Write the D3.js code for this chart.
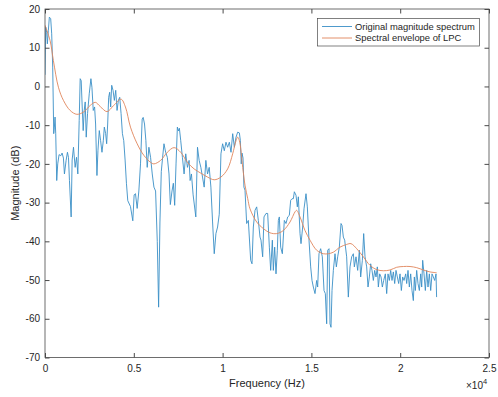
<!DOCTYPE html>
<html>
<head>
<meta charset="utf-8">
<script src="https://cdn.jsdelivr.net/npm/d3@7"></script>
<style>
  html, body { margin: 0; padding: 0; background: #fff; }
  svg { display: block; }
  text { font-family: "Liberation Sans", Arial, Helvetica, sans-serif; fill: #262626; }
</style>
</head>
<body>
<svg id="chart" width="498" height="397"></svg>
<script>
// ---------- data ----------
const spectrumFreq = [0,38,94,132,189,245,321,377,434,491,528,566,604,660,717,793,887,962,1038,1094,1189,1264,1321,1377,1472,1528,1604,1698,1774,1849,1925,1981,2038,2095,2151,2208,2264,2321,2396,2491,2585,2642,2717,2793,2849,2925,2981,3057,3132,3208,3283,3340,3415,3472,3529,3585,3642,3698,3755,3831,3906,3982,4057,4132,4208,4283,4359,4434,4510,4585,4661,4812,4944,5019,5095,5189,5284,5378,5472,5529,5604,5680,5755,5850,5944,6038,6133,6227,6322,6397,6472,6548,6623,6699,6793,6888,6982,7057,7151,7227,7302,7378,7453,7510,7567,7642,7737,7831,7925,8020,8114,8171,8246,8340,8492,8586,8680,8775,8869,8963,9057,9152,9246,9341,9435,9529,9624,9718,9812,9907,10001,10096,10190,10284,10379,10473,10568,10662,10756,10851,10945,11000,11050,11093,11150,11200,11262,11355,11449,11581,11656,11731,11825,11919,12012,12106,12163,12256,12331,12444,12538,12632,12707,12801,12857,12932,13007,13082,13139,13195,13270,13364,13476,13570,13664,13758,13833,13908,13983,14040,14133,14208,14265,14359,14415,14509,14584,14696,14771,14865,14959,15034,15109,15203,15297,15353,15428,15522,15616,15710,15785,15860,15917,15992,16048,16104,16161,16236,16329,16405,16480,16573,16667,16724,16799,16874,16986,17080,17174,17268,17362,17418,17512,17606,17700,17775,17869,17944,18019,18113,18188,18263,18338,18413,18488,18563,18638,18713,18770,18845,18920,18995,19070,19164,19239,19314,19389,19464,19539,19614,19689,19764,19839,19914,19990,20065,20140,20215,20309,20365,20440,20515,20590,20665,20740,20797,20853,20928,21003,21078,21153,21210,21266,21341,21416,21491,21566,21641,21717,21792,21867,21942,22017,22050];
const spectrumDb = [3,15.3,14,11,14.5,17.9,17.5,13.6,5,-12.2,-10.5,-7.9,-12.2,-24.3,-20,-17.6,-17.9,-17.2,-18.5,-22.6,-19.1,-17,-18.3,-24.3,-33.7,-19,-15.7,-20.9,-18.3,-22.6,-8.8,2,1.5,-5.3,-11.4,-6.2,-4,-13.1,-7,-1.9,2,-0.2,-6.2,-5.3,-9.7,-23,-16.6,-11.4,-14,-17,-14,-10.5,-12.2,-14.8,-9.7,-2.8,-1.5,-5.3,0.3,-1,-3.6,-1,-6.2,-3.6,-2.8,-7,-12.2,-14,-19,-25,-29.5,-31,-34.7,-28,-27.7,-31.5,-27,-20,-8.4,-8,-9.7,-14,-20.9,-15.7,-18.3,-22.6,-26,-27,-40,-57,-35,-22,-18.3,-14.8,-17,-18.3,-22.6,-30.5,-27,-25,-30.7,-20,-10.5,-11.5,-10.8,-14,-18.3,-22.6,-17.4,-20.9,-19.1,-24.3,-22.6,-28,-33.7,-15.7,-19.1,-20.9,-23.4,-26,-19.1,-22.6,-20.9,-26,-35,-43.2,-38,-36.3,-33,-17.4,-14.8,-16.6,-14.4,-15.7,-14.4,-17,-12.2,-15.7,-13.1,-11.8,-12,-14,-20,-17.2,-18.5,-26,-26.8,-35.4,-34.6,-44.9,-45.8,-36.3,-32,-31.1,-34.6,-38.9,-39.7,-44,-33.7,-32.8,-32.8,-41.5,-47.5,-39.7,-47.5,-41.5,-48.4,-42.3,-34.6,-33.7,-41.5,-43.2,-34.6,-35.4,-33.7,-33.3,-29.4,-29,-29,-27.2,-28.1,-31.1,-28.5,-38,-40.6,-36.3,-31.6,-27.7,-31.1,-39.7,-46.6,-50.1,-51.8,-53.5,-50.1,-51.8,-43.2,-41.9,-44,-52.7,-53.5,-61.3,-42.3,-41.9,-61.3,-62.2,-52.7,-47.5,-43.2,-46.6,-44,-41.5,-35.4,-35.9,-38.9,-39.7,-44,-54.4,-46.6,-44,-43.2,-46.6,-44,-47.5,-42.3,-49.2,-44.9,-38,-44,-46.6,-51.8,-49.2,-45.8,-47.5,-50.1,-47.5,-49.2,-46.6,-51.8,-48.4,-49.2,-51.8,-50.1,-48.4,-53.5,-48.4,-50.1,-47.5,-50.1,-47.9,-50.9,-47.5,-49.2,-50.9,-48.4,-52.7,-49.2,-50.1,-48.4,-50.9,-47.5,-51.8,-48.4,-52.7,-55.3,-49.2,-52.7,-47.5,-50.9,-52.7,-48.4,-51.8,-44.9,-48.4,-52.7,-47.5,-51.8,-48.4,-52.7,-48.4,-49.2,-50.1,-48.4,-54.4];

const envelopeFreq = [0,283,472,755,1038,1415,1793,2170,2547,2831,3114,3491,3868,4283,4529,4812,5189,5567,5944,6133,6510,6888,7265,7642,8020,8397,8775,9152,9529,9907,10284,10567,10756,10850,10945,11133,11262,11416,11543,11919,12294,12670,13045,13420,13796,14077,14171,14359,14640,14922,15297,15673,15954,16236,16611,16986,17230,17550,17925,18300,18676,19051,19426,19802,20177,20553,20928,21304,21679,22050];
const envelopeDb = [15.8,11.9,6.7,-0.2,-3.6,-6.2,-7.2,-6.6,-4.9,-4.1,-5.2,-6.5,-4.9,-3.3,-5.3,-10.5,-14.8,-17.8,-19.6,-20,-19.1,-17,-15.8,-17,-19.6,-21.3,-22.4,-23.4,-24.1,-23.4,-21.3,-17.4,-14,-13.1,-14,-20.9,-25.5,-29,-31.6,-35,-36.7,-37.8,-38,-37.2,-35,-32.4,-32,-33.7,-37.2,-39.7,-42.3,-43.2,-43.2,-42.8,-41.5,-40.8,-40.6,-41.9,-44,-46.2,-47.3,-47.6,-47.4,-46.7,-46.5,-46.5,-46.8,-47.4,-47.9,-48.1];

const xTicks = [0, 5000, 10000, 15000, 20000, 25000];
const xTickLabels = ["0", "0.5", "1", "1.5", "2", "2.5"];
const yTicks = [-70, -60, -50, -40, -30, -20, -10, 0, 10, 20];
const seriesNames = ["Original magnitude spectrum", "Spectral envelope of LPC"];
const seriesColors = ["#3a8fc6", "#e0845a"];

// ---------- layout ----------
const svg = d3.select("#chart");
const L = 45, R = 489, T = 9, B = 357.5;
const x = d3.scaleLinear().domain([0, 25000]).range([L, R]);
const y = d3.scaleLinear().domain([-70, 20]).range([B, T]);
const axisColor = "#4a4a4a";

svg.append("defs").append("clipPath").attr("id", "clip")
  .append("rect").attr("x", L).attr("y", T).attr("width", R - L).attr("height", B - T);

const spec = spectrumFreq.map((f, i) => [f, spectrumDb[i]]);
const env = envelopeFreq.map((f, i) => [f, envelopeDb[i]]);
const lineLin = d3.line().x(d => x(d[0])).y(d => y(d[1]));
const lineSmooth = d3.line().x(d => x(d[0])).y(d => y(d[1])).curve(d3.curveCatmullRom.alpha(0.5));

const g = svg.append("g").attr("clip-path", "url(#clip)");
g.append("path").datum(spec).attr("d", lineLin)
  .attr("fill", "none").attr("stroke", seriesColors[0]).attr("stroke-width", 0.9).attr("stroke-linejoin", "round");
g.append("path").datum(env).attr("d", lineSmooth)
  .attr("fill", "none").attr("stroke", seriesColors[1]).attr("stroke-width", 0.9);

function styleAxis(sel) {
  sel.select(".domain").remove();
  sel.selectAll(".tick line").attr("stroke", axisColor);
  sel.selectAll(".tick text").attr("fill", "#262626").style("font-size", "10px")
     .style("font-family", '"Liberation Sans", Arial, sans-serif');
}
svg.append("g").attr("transform", `translate(0,${B})`)
  .call(d3.axisBottom(x).tickValues(xTicks).tickFormat((d, i) => xTickLabels[i]).tickSizeInner(-4.5).tickSizeOuter(0).tickPadding(7))
  .call(styleAxis);
svg.append("g").attr("transform", `translate(0,${T})`)
  .call(d3.axisTop(x).tickValues(xTicks).tickFormat("").tickSizeInner(-4.5).tickSizeOuter(0))
  .call(styleAxis);
svg.append("g").attr("transform", `translate(${L},0)`)
  .call(d3.axisLeft(y).tickValues(yTicks).tickFormat(d => d).tickSizeInner(-4.5).tickSizeOuter(0).tickPadding(5))
  .call(styleAxis);
svg.append("g").attr("transform", `translate(${R},0)`)
  .call(d3.axisRight(y).tickValues(yTicks).tickFormat("").tickSizeInner(-4.5).tickSizeOuter(0))
  .call(styleAxis);

svg.append("rect").attr("x", L).attr("y", T).attr("width", R - L).attr("height", B - T)
  .attr("fill", "none").attr("stroke", axisColor).attr("stroke-width", 0.8);

svg.append("text").attr("x", (L + R) / 2).attr("y", 387).attr("text-anchor", "middle")
  .style("font-size", "11px").text("Frequency (Hz)");
svg.append("text").attr("transform", `translate(19,${(T + B) / 2}) rotate(-90)`).attr("text-anchor", "middle")
  .style("font-size", "11px").text("Magnitude (dB)");
const exp = svg.append("text").attr("x", 466).attr("y", 389).style("font-size", "10px");
exp.append("tspan").text("×10");
exp.append("tspan").attr("dy", -5).style("font-size", "7.5px").text("4");

const lg = svg.append("g");
lg.append("rect").attr("x", 317.5).attr("y", 18.5).attr("width", 162).attr("height", 27.5)
  .attr("fill", "#fff").attr("stroke", axisColor).attr("stroke-width", 0.7);
seriesNames.forEach((name, i) => {
  const yy = 26.5 + i * 11.5;
  lg.append("line").attr("x1", 322).attr("x2", 352).attr("y1", yy).attr("y2", yy)
    .attr("stroke", seriesColors[i]).attr("stroke-width", 0.9);
  lg.append("text").attr("x", 355).attr("y", yy).attr("dy", "0.35em")
    .style("font-size", "9.4px").text(name);
});
</script>
</body>
</html>
